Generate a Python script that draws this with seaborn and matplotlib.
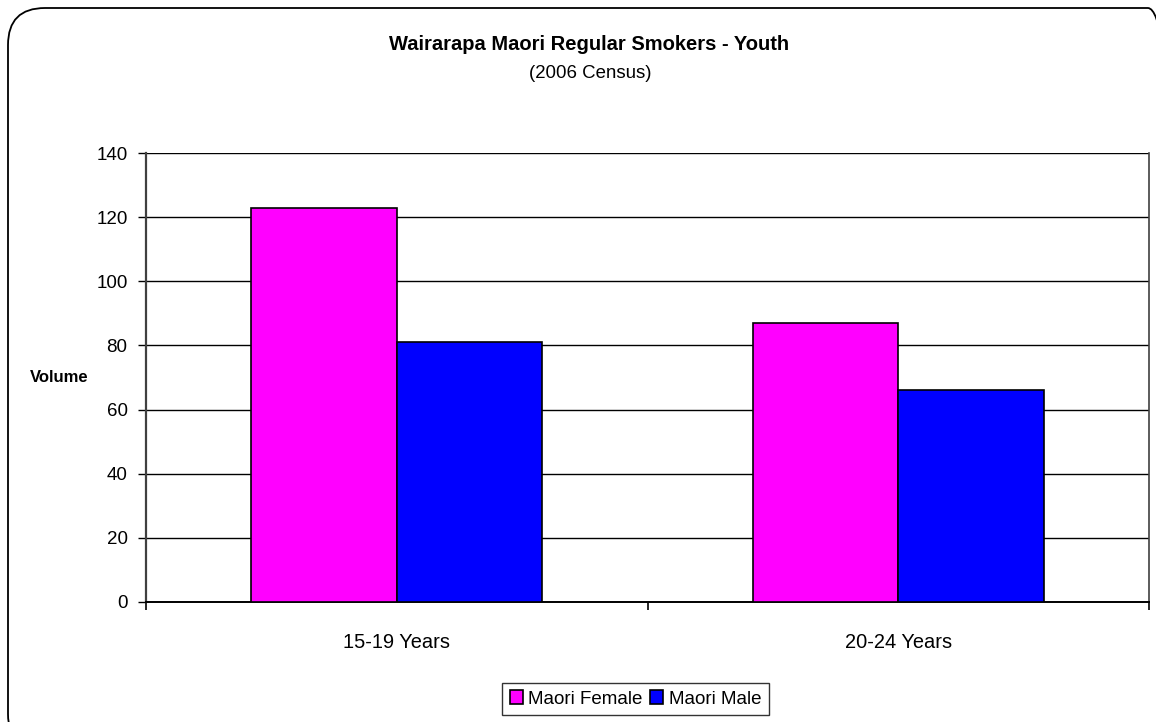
import pandas as pd
import seaborn as sns
import matplotlib.pyplot as plt
from matplotlib.patches import FancyBboxPatch

# data
age_groups = ["15-19 Years", "20-24 Years"]
series = ["Maori Female", "Maori Male"]
female_values = [123, 87]
male_values = [81, 66]
y_ticks = [0, 20, 40, 60, 80, 100, 120, 140]
colors = ["#FF00FF", "#0000FF"]

df = pd.DataFrame({
    "group": age_groups * 2,
    "series": [series[0]] * 2 + [series[1]] * 2,
    "volume": female_values + male_values,
})

sns.set_style("white")
plt.rcParams["font.family"] = ["Liberation Sans", "DejaVu Sans"]
plt.rcParams["text.color"] = "black"
plt.rcParams["xtick.color"] = "black"
plt.rcParams["ytick.color"] = "black"

W, H = 1156, 722
fig = plt.figure(figsize=(W / 100, H / 100), dpi=100)
ax = fig.add_axes([146 / W, 1 - 602 / H, (1149 - 146) / W, (602 - 153) / H])

sns.barplot(data=df, x="group", y="volume", hue="series", order=age_groups,
            hue_order=series, palette=colors, width=0.58, edgecolor="black",
            linewidth=1.2, saturation=1, ax=ax, legend=True, zorder=3)

ax.set_xlim(-0.5, 1.5)
ax.set_ylim(0, 140)
ax.set_yticks(y_ticks)
ax.yaxis.grid(True, color="black", linewidth=1, zorder=0)
ax.set_axisbelow(True)
ax.set_xlabel("")
ax.set_ylabel("")

for side in ["left", "bottom", "right"]:
    ax.spines[side].set_visible(True)
ax.spines["top"].set_visible(False)
ax.spines["left"].set_color("#404040")
ax.spines["left"].set_linewidth(1.6)
ax.spines["bottom"].set_color("black")
ax.spines["bottom"].set_linewidth(1.4)
ax.spines["right"].set_color("#404040")
ax.spines["right"].set_linewidth(1.2)

ax.tick_params(axis="y", which="major", direction="out", length=5.8, width=1,
               color="black", pad=7.5, labelsize=13.5, left=True)
ax.tick_params(axis="x", which="major", length=0, pad=22, labelsize=14.4)
ax.set_xticks([-0.5, 0.5, 1.5], minor=True)
ax.tick_params(axis="x", which="minor", direction="out", length=5.8, width=1.2,
               color="black", bottom=True)

handles, labels = ax.get_legend_handles_labels()
ax.get_legend().remove()
leg = fig.legend(handles, labels, loc="center", bbox_to_anchor=(635.5 / W, 1 - 699 / H),
                 ncol=2, frameon=True, fancybox=False, fontsize=13.5,
                 handlelength=0.7, handleheight=0.7, handletextpad=0.3,
                 columnspacing=0.4, borderpad=0.4, borderaxespad=0,
                 edgecolor="black")
leg.get_frame().set_linewidth(1)

fig.text(589.5 / W, 1 - 45 / H, "Wairarapa Maori Regular Smokers - Youth",
         ha="center", va="center", fontsize=14.5, fontweight="bold")
fig.text(590 / W, 1 - 73 / H, "(2006 Census)", ha="center", va="center", fontsize=13.4)
fig.text(59 / W, 1 - 377 / H, "Volume", ha="center", va="center",
         fontsize=12, fontweight="bold")

border = FancyBboxPatch((8 / W, -0.04), 1.025 - 8 / W, 1.04 - 8 / H,
                        boxstyle="round,pad=0,rounding_size=0.032",
                        transform=fig.transFigure, facecolor="none",
                        edgecolor="black", linewidth=1.3, mutation_aspect=W / H)
fig.patches.append(border)

fig.savefig("out.png", dpi=100)
